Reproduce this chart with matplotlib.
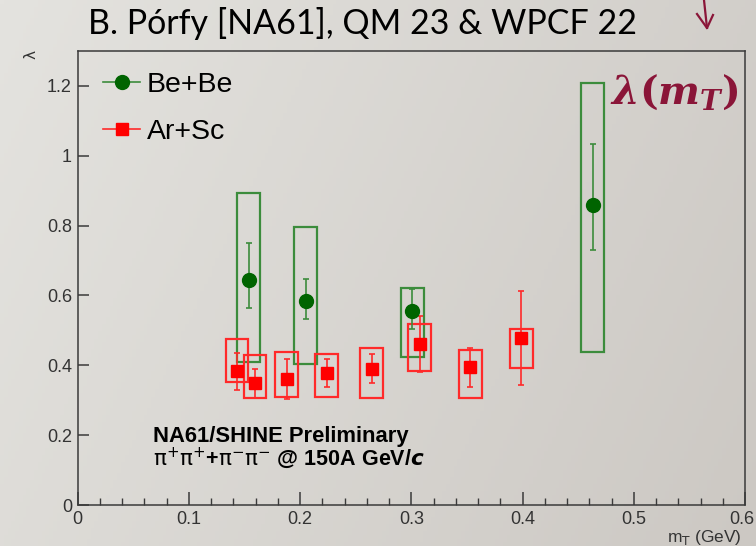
import numpy as np
import matplotlib
matplotlib.use("Agg")
import matplotlib.pyplot as plt
from matplotlib.patches import Rectangle
from matplotlib.lines import Line2D
from matplotlib.transforms import ScaledTranslation

plt.rcParams['mathtext.fontset'] = 'custom'
plt.rcParams['mathtext.rm'] = 'DejaVu Serif:bold'
plt.rcParams['mathtext.it'] = 'DejaVu Serif:italic:bold'
plt.rcParams['mathtext.bf'] = 'DejaVu Serif:bold'

# ---------------- data ----------------
be_x = [0.154, 0.205, 0.301, 0.463]
be_y = [0.645, 0.585, 0.556, 0.860]
be_stat_hi = [0.749, 0.647, 0.618, 1.034]
be_stat_lo = [0.565, 0.533, 0.505, 0.731]
be_sys_hi = [0.894, 0.797, 0.622, 1.208]
be_sys_lo = [0.410, 0.404, 0.424, 0.437]

ar_x = [0.1434, 0.1596, 0.188, 0.224, 0.2645, 0.3076, 0.353, 0.399]
ar_y = [0.384, 0.348, 0.361, 0.378, 0.389, 0.462, 0.394, 0.477]
ar_stat_hi = [0.435, 0.388, 0.418, 0.418, 0.432, 0.541, 0.449, 0.613]
ar_stat_lo = [0.330, 0.307, 0.303, 0.337, 0.348, 0.382, 0.339, 0.344]
ar_sys_hi = [0.474, 0.430, 0.439, 0.431, 0.450, 0.519, 0.443, 0.504]
ar_sys_lo = [0.351, 0.306, 0.310, 0.309, 0.307, 0.384, 0.306, 0.393]

x_ticks = [0, 0.1, 0.2, 0.3, 0.4, 0.5, 0.6]
x_tick_labels = ['0', '0.1', '0.2', '0.3', '0.4', '0.5', '0.6']
y_ticks = [0, 0.2, 0.4, 0.6, 0.8, 1.0, 1.2]
y_tick_labels = ['0', '0.2', '0.4', '0.6', '0.8', '1', '1.2']

series_labels = ['Be+Be', 'Ar+Sc']
title = "B. Pórfy [NA61], QM 23 & WPCF 22"

# ---------------- figure ----------------
W, H = 756, 546
fig = plt.figure(figsize=(W / 100, H / 100), dpi=100)

# slide background gradient
bg = fig.add_axes([0, 0, 1, 1], zorder=-10)
gx, gy = np.meshgrid(np.linspace(0, 1, 200), np.linspace(0, 1, 150))
t = 0.75 * gx + 0.25 * gy
c0 = np.array([228, 227, 223]) / 255.0
c1 = np.array([204, 200, 195]) / 255.0
img = c0[None, None, :] * (1 - t[..., None]) + c1[None, None, :] * t[..., None]
bg.imshow(img, aspect='auto', extent=[0, 1, 0, 1], origin='upper')
bg.set_axis_off()

ax = fig.add_axes([77.5 / W, 1 - 505 / H, (745 - 77.5) / W, (505 - 51) / H])
ax.set_facecolor('none')
ax.set_xlim(0, 0.6)
ax.set_ylim(0, 1.3)

green_dark = '#006400'
green_line = '#3c8c3c'
red = '#ff0000'
red_box = '#ff2a2a'
half_w = 0.0102

for x, lo, hi in zip(be_x, be_sys_lo, be_sys_hi):
    ax.add_patch(Rectangle((x - half_w, lo), 2 * half_w, hi - lo, fill=False,
                           edgecolor=green_line, lw=1.6, zorder=2))
for x, lo, hi in zip(ar_x, ar_sys_lo, ar_sys_hi):
    ax.add_patch(Rectangle((x - half_w, lo), 2 * half_w, hi - lo, fill=False,
                           edgecolor=red_box, lw=1.6, zorder=2))

be_err = [np.array(be_y) - np.array(be_stat_lo), np.array(be_stat_hi) - np.array(be_y)]
ar_err = [np.array(ar_y) - np.array(ar_stat_lo), np.array(ar_stat_hi) - np.array(ar_y)]

ax.errorbar(be_x, be_y, yerr=be_err, fmt='o', color=green_dark, ms=10,
            ecolor=green_line, elinewidth=1.2, capsize=2.2, capthick=1.2, zorder=4)
ax.errorbar(ar_x, ar_y, yerr=ar_err, fmt='s', color=red, ms=9.3,
            ecolor=red_box, elinewidth=1.2, capsize=2.2, capthick=1.2, zorder=3)

# axes styling
for s in ax.spines.values():
    s.set_color('#3a3a3a')
    s.set_linewidth(1.1)
ax.set_xticks(x_ticks)
ax.set_xticklabels(x_tick_labels)
ax.set_yticks(y_ticks)
ax.set_yticklabels(y_tick_labels)
ax.set_xticks(np.arange(0, 0.6001, 0.02), minor=True)
ax.tick_params(axis='x', which='major', direction='in', length=9.4, width=1.1,
               color='#3a3a3a', labelsize=13, labelcolor='#333333', pad=4)
ax.tick_params(axis='x', which='minor', direction='in', length=4.7, width=1.0,
               color='#3a3a3a')
ax.tick_params(axis='y', which='major', direction='in', length=8, width=1.1,
               color='#3a3a3a', labelsize=13, labelcolor='#333333', pad=4)
for lab in ax.get_xticklabels() + ax.get_yticklabels():
    lab.set_fontfamily('Liberation Sans')
last = ax.get_xticklabels()[-1]
last.set_transform(last.get_transform() + ScaledTranslation(-3 / 100, 0, fig.dpi_scale_trans))

# axis titles
ax.text(-0.07, 1.003, 'λ', transform=ax.transAxes, rotation=90, ha='center',
        va='top', fontsize=11, color='#333333', family='DejaVu Sans')
ax.text(0.995, -0.05, r'm$_{\mathsf{T}}$ (GeV)', transform=ax.transAxes, ha='right',
        va='top', fontsize=12.5, color='#333333', family='Liberation Sans',
        math_fontfamily='dejavusans')

# legend
handles = [Line2D([], [], color=green_line, marker='o', markerfacecolor=green_dark,
                  markeredgecolor=green_dark, ms=10, lw=1.2),
           Line2D([], [], color=red_box, marker='s', markerfacecolor=red,
                  markeredgecolor=red, ms=9.3, lw=1.2)]
leg = ax.legend(handles, series_labels, loc='upper left',
                bbox_to_anchor=(0.0005, 1.01), frameon=False, handlelength=1.3,
                handletextpad=0.22, labelspacing=0.75,
                prop={'family': 'Liberation Sans', 'size': 20.5})

# preliminary text
ax.text(0.113, 0.139, 'NA61/SHINE Preliminary', transform=ax.transAxes,
        fontsize=15.8, fontweight='bold', family='Liberation Sans', color='black',
        va='baseline')
ax.text(0.113, 0.087, r'$\mathsf{\pi^{+}\pi^{+}}$+$\mathsf{\pi^{-}\pi^{-}}$ @ 150A GeV/$\mathbfit{c}$',
        transform=ax.transAxes, fontsize=15.5, fontweight='bold',
        family='Liberation Sans', color='black', math_fontfamily='dejavusans',
        va='baseline')

# slide title and decorations
fig.text(88 / W, 1 - 34 / H, title, fontsize=24.5, family='Lato', color='black',
         va='baseline', ha='left')
fig.text(610 / W, 1 - 104 / H, r'$\mathit{\lambda}(\mathit{m}_{\mathit{T}})$',
         fontsize=28.5, color='#8a1538', ha='left', va='baseline')
fig.add_artist(Line2D([704 / W, 707 / W], [1.0, 1 - 28 / H], color='#8a1538', lw=1.6))
fig.add_artist(Line2D([697 / W, 707 / W, 713 / W], [1 - 14 / H, 1 - 28 / H, 1 - 15 / H],
                      color='#8a1538', lw=1.6))

fig.savefig('out.png', dpi=100)
